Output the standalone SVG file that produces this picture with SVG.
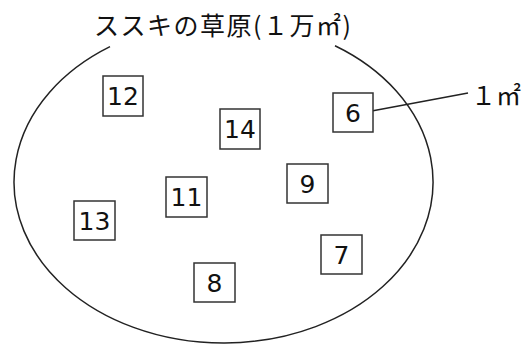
<svg xmlns="http://www.w3.org/2000/svg" width="524" height="345" viewBox="0 0 524 345">
<style>
.box{fill:#fff;stroke:#333;stroke-width:1.5}
.num{font-family:"DejaVu Sans","Noto Sans CJK JP",sans-serif;font-size:25px;fill:#111;text-anchor:middle}
.lbl{font-family:"Noto Sans CJK JP",sans-serif;font-size:25px;fill:#111}
.ln{fill:none;stroke:#222;stroke-width:1.5}
</style>
<rect width="524" height="345" fill="#fff"/>
<g id="field">
<path class="ln" d="M335,45.7 A209.5,161 0 1 1 110,46.7"/>
<text class="lbl" x="94" y="35" font-size="26" textLength="257" lengthAdjust="spacing">ススキの草原(１万㎡)</text>
</g>
<g id="connectors">
<line class="ln" x1="373" y1="110.7" x2="468" y2="93"/>
</g>
<g id="unit"><text class="lbl" x="471" y="105">１㎡</text></g>
<g id="q12"><rect class="box" x="103" y="76" width="40" height="40"/><text class="num" x="123" y="105">12</text></g>
<g id="q14"><rect class="box" x="220" y="109" width="40" height="40"/><text class="num" x="240" y="138">14</text></g>
<g id="q6"><rect class="box" x="333" y="93" width="40" height="39"/><text class="num" x="353" y="121.5">6</text></g>
<g id="q13"><rect class="box" x="74" y="201" width="41" height="39"/><text class="num" x="94.5" y="229.5">13</text></g>
<g id="q11"><rect class="box" x="166" y="177" width="41" height="40"/><text class="num" x="186.5" y="206">11</text></g>
<g id="q9"><rect class="box" x="287" y="164" width="41" height="39"/><text class="num" x="307.5" y="192.5">9</text></g>
<g id="q7"><rect class="box" x="321" y="235" width="41" height="39"/><text class="num" x="341.5" y="263.5">7</text></g>
<g id="q8"><rect class="box" x="194" y="263" width="41" height="39"/><text class="num" x="214.5" y="291.5">8</text></g>
</svg>
